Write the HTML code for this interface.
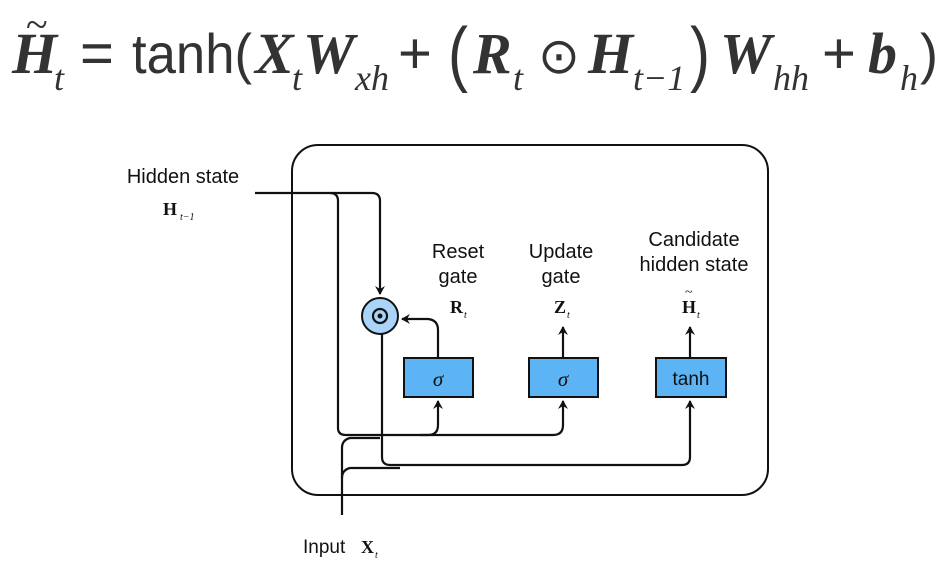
<!DOCTYPE html>
<html><head><meta charset="utf-8"><style>
body{margin:0;background:#fff;}
svg{display:block}
</style></head><body>
<svg width="951" height="570" viewBox="0 0 951 570" xmlns="http://www.w3.org/2000/svg">
<defs><marker id="a" markerWidth="10" markerHeight="10" refX="8" refY="5" orient="auto" markerUnits="userSpaceOnUse"><path d="M0,0 L9,5 L0,10 L3,5 Z" fill="#111"/></marker></defs>
<g fill="#333" font-family="Liberation Serif, serif">
<text x="12" y="73" font-size="58" font-style="italic" font-weight="bold">H</text>
<text x="26" y="38" font-size="40">~</text>
<text x="54" y="90" font-size="36" font-style="italic">t</text>
<text x="80" y="73" font-size="58" font-family="Liberation Sans, sans-serif">=</text>
<text x="132" y="73" font-size="56" font-family="Liberation Sans, sans-serif" textLength="120" lengthAdjust="spacingAndGlyphs">tanh(</text>
<text x="255" y="73" font-size="58" font-style="italic" font-weight="bold">X</text>
<text x="292" y="90" font-size="36" font-style="italic">t</text>
<text x="303" y="73" font-size="58" font-style="italic" font-weight="bold">W</text>
<text x="355" y="90" font-size="36" font-style="italic">xh</text>
<text x="398" y="73" font-size="58" font-family="Liberation Sans, sans-serif">+</text>
<text x="448" y="78" font-size="72" font-family="Liberation Sans, sans-serif" textLength="20" lengthAdjust="spacingAndGlyphs">(</text>
<text x="473" y="73" font-size="58" font-style="italic" font-weight="bold">R</text>
<text x="513" y="90" font-size="36" font-style="italic">t</text>
<text x="538" y="73" font-size="50">⊙</text>
<text x="588" y="73" font-size="58" font-style="italic" font-weight="bold">H</text>
<text x="633" y="90" font-size="36" font-style="italic">t−1</text>
<text x="690" y="78" font-size="72" font-family="Liberation Sans, sans-serif" textLength="20" lengthAdjust="spacingAndGlyphs">)</text>
<text x="720" y="73" font-size="58" font-style="italic" font-weight="bold">W</text>
<text x="773" y="90" font-size="36" font-style="italic">hh</text>
<text x="822" y="73" font-size="58" font-family="Liberation Sans, sans-serif">+</text>
<text x="868" y="73" font-size="58" font-style="italic" font-weight="bold">b</text>
<text x="900" y="90" font-size="36" font-style="italic">h</text>
<text x="920" y="73" font-size="56" font-family="Liberation Sans, sans-serif" textLength="18" lengthAdjust="spacingAndGlyphs">)</text>
</g>
<rect x="292" y="145" width="476" height="350" rx="26" fill="none" stroke="#111" stroke-width="2"/>
<g fill="none" stroke="#111" stroke-width="2.2">
<path d="M255,193 H372 Q380,193 380,201 V294" marker-end="url(#a)"/>
<path d="M330,193 Q338,193 338,201 V428 Q338,435 346,435 H428 Q438,435 438,425 V401" marker-end="url(#a)"/>
<path d="M420,435 H553 Q563,435 563,425 V401" marker-end="url(#a)"/>
<path d="M438,358 V330 Q438,320 428,319 H402" marker-end="url(#a)"/>
<path d="M382,334 V457 Q382,465 390,465 H682 Q690,465 690,457 V401" marker-end="url(#a)"/>
<path d="M342,515 V448 Q342,440 350,438 H380"/>
<path d="M342,478 Q342,470 350,468 H400"/>
<path d="M563,358 V327" marker-end="url(#a)"/>
<path d="M690,358 V327" marker-end="url(#a)"/>
</g>
<circle cx="380" cy="316" r="18" fill="#a9d3f7" stroke="#111" stroke-width="2"/>
<circle cx="380" cy="316" r="7" fill="none" stroke="#111" stroke-width="2.2"/>
<circle cx="380" cy="316" r="2.5" fill="#111"/>
<g stroke="#111" stroke-width="2" fill="#5cb4f4">
<rect x="404" y="358" width="69" height="39"/>
<rect x="529" y="358" width="69" height="39"/>
<rect x="656" y="358" width="70" height="39"/>
</g>
<g font-family="Liberation Sans, sans-serif" fill="#111" text-anchor="middle">
<text x="438" y="386" font-size="21" font-style="italic" font-family="Liberation Serif, serif">σ</text>
<text x="563" y="386" font-size="21" font-style="italic" font-family="Liberation Serif, serif">σ</text>
<text x="691" y="385" font-size="19">tanh</text>
<text x="458" y="258" font-size="20">Reset</text>
<text x="458" y="283" font-size="20">gate</text>
<text x="561" y="258" font-size="20">Update</text>
<text x="561" y="283" font-size="20">gate</text>
<text x="694" y="246" font-size="20">Candidate</text>
<text x="694" y="271" font-size="20">hidden state</text>
<text x="183" y="183" font-size="20">Hidden state</text>
</g>
<g font-family="Liberation Serif, serif" fill="#111">
<text x="450" y="313" font-size="18" font-weight="bold">R</text><text x="464" y="318" font-size="10" font-style="italic">t</text>
<text x="554" y="313" font-size="18" font-weight="bold">Z</text><text x="567" y="318" font-size="10" font-style="italic">t</text>
<text x="682" y="313" font-size="18" font-weight="bold">H</text><text x="685" y="296" font-size="14">~</text><text x="697" y="318" font-size="10" font-style="italic">t</text>
<text x="163" y="215" font-size="18" font-weight="bold">H</text><text x="180" y="220" font-size="10" font-style="italic">t−1</text>
<text x="361" y="553" font-size="18" font-weight="bold">X</text><text x="375" y="558" font-size="10" font-style="italic">t</text>
</g>
<text x="303" y="553" font-size="19" font-family="Liberation Sans, sans-serif" fill="#111">Input</text>
</svg>
</body></html>
